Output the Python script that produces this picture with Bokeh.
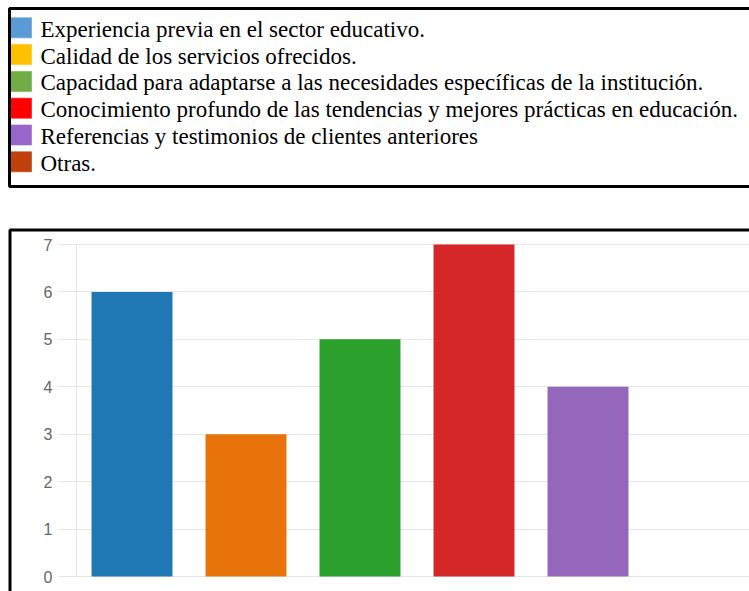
from bokeh.plotting import figure
from bokeh.models import Range1d, FixedTicker, BoxAnnotation, ColumnDataSource, LinearAxis
from bokeh.layouts import column
from bokeh.core.properties import value
from bokeh.embed import file_html
from bokeh.resources import INLINE

# ---- data ----
categories = [
    "Experiencia previa en el sector educativo.",
    "Calidad de los servicios ofrecidos.",
    "Capacidad para adaptarse a las necesidades específicas de la institución.",
    "Conocimiento profundo de las tendencias y mejores prácticas en educación.",
    "Referencias y testimonios de clientes anteriores",
    "Otras.",
]
counts = [6, 3, 5, 7, 4, 0]
bar_colors = ["#1F77B4", "#E8730A", "#2CA02C", "#D62728", "#9467BD", "#8C564B"]
legend_colors = ["#5B9BD5", "#FFC000", "#70AD47", "#FF0000", "#9966CC", "#C0410C"]
y_ticks = [0, 1, 2, 3, 4, 5, 6, 7]

# ---- layout constants (pixels) ----
W = 749
TOP_H = 220
BOT_H = 591 - TOP_H

# ---- legend panel ----
leg = figure(width=W, height=TOP_H, x_range=Range1d(0, W), y_range=Range1d(TOP_H, 0),
             output_backend="svg", toolbar_location=None, min_border=0,
             x_axis_location=None, y_axis_location=None)
leg.grid.visible = False
leg.outline_line_color = None
leg.background_fill_color = "white"
leg.border_fill_color = "white"

row_top, row_step = 17.3, 26.8
tops = [row_top + i * row_step for i in range(len(categories))]
lsrc = ColumnDataSource(dict(label=categories, color=legend_colors,
                             yc=[t + 10 for t in tops], yb=[t + 11.5 for t in tops]))
leg.rect(x=20.5, y="yc", width=21, height=20, fill_color="color",
         line_color="color", line_alpha=0.6, source=lsrc)
leg.text(x=40, y="yb", text="label", text_font=value("Liberation Serif"),
         text_font_size="23px", text_baseline="alphabetic", text_color="#000000", source=lsrc)
leg.add_layout(BoxAnnotation(left=9, right=W + 20, top=8, bottom=186,
                             fill_alpha=0, line_color="black", line_alpha=1, line_width=3))

# ---- bar chart ----
PX_X = 114.0          # pixels per category
X0_PX = 131.5         # pixel centre of first category
AX_PX = 76            # pixel of the value axis
PX_Y = 332 / 7.0      # pixels per unit
Y0_PX = 576 - 220     # pixel of value 0 inside this panel

x_start = -X0_PX / PX_X
x_end = (W - X0_PX) / PX_X
y_start = -(BOT_H - Y0_PX) / PX_Y
y_end = Y0_PX / PX_Y
x_axis_pos = (AX_PX - X0_PX) / PX_X

idx = list(range(len(categories)))
bsrc = ColumnDataSource(dict(x=idx, top=counts, color=bar_colors, cat=categories))
p = figure(width=W, height=BOT_H, x_range=Range1d(x_start, x_end), y_range=Range1d(y_start, y_end),
           output_backend="svg", toolbar_location=None,
           x_axis_location=None, y_axis_location=None, min_border=0)
p.outline_line_color = None
p.background_fill_color = "white"
p.border_fill_color = "white"
p.xgrid.visible = False
p.ygrid.grid_line_color = "#e6e6e6"
p.ygrid.ticker = FixedTicker(ticks=y_ticks)

# white cover left of the value axis (gridlines start at the tick marks)
p.quad(left=[x_start], right=[x_axis_pos], bottom=[y_start], top=[y_end],
       fill_color="white", line_color=None)

p.vbar(x="x", top="top", bottom=0, width=0.71, fill_color="color", line_color=None, source=bsrc)

ax = LinearAxis(fixed_location=x_axis_pos, ticker=FixedTicker(ticks=y_ticks), bounds=(0, 7))
ax.axis_line_color = "#e5e5e5"
ax.major_tick_line_color = "#e5e5e5"
ax.major_tick_out = 18
ax.major_tick_in = 0
ax.minor_tick_line_color = None
ax.major_label_standoff = 6
ax.major_label_text_font = "Liberation Sans"
ax.major_label_text_font_size = "16px"
ax.major_label_text_color = "#666666"
p.add_layout(ax, "left")

p.add_layout(BoxAnnotation(left=9.5, right=W + 20, top=9.5, bottom=BOT_H + 20,
                           left_units="canvas", right_units="canvas",
                           top_units="canvas", bottom_units="canvas",
                           fill_alpha=0, line_color="black", line_alpha=1, line_width=3))

layout = column(leg, p, spacing=0)
open("out.html", "w").write(file_html(layout, INLINE))
